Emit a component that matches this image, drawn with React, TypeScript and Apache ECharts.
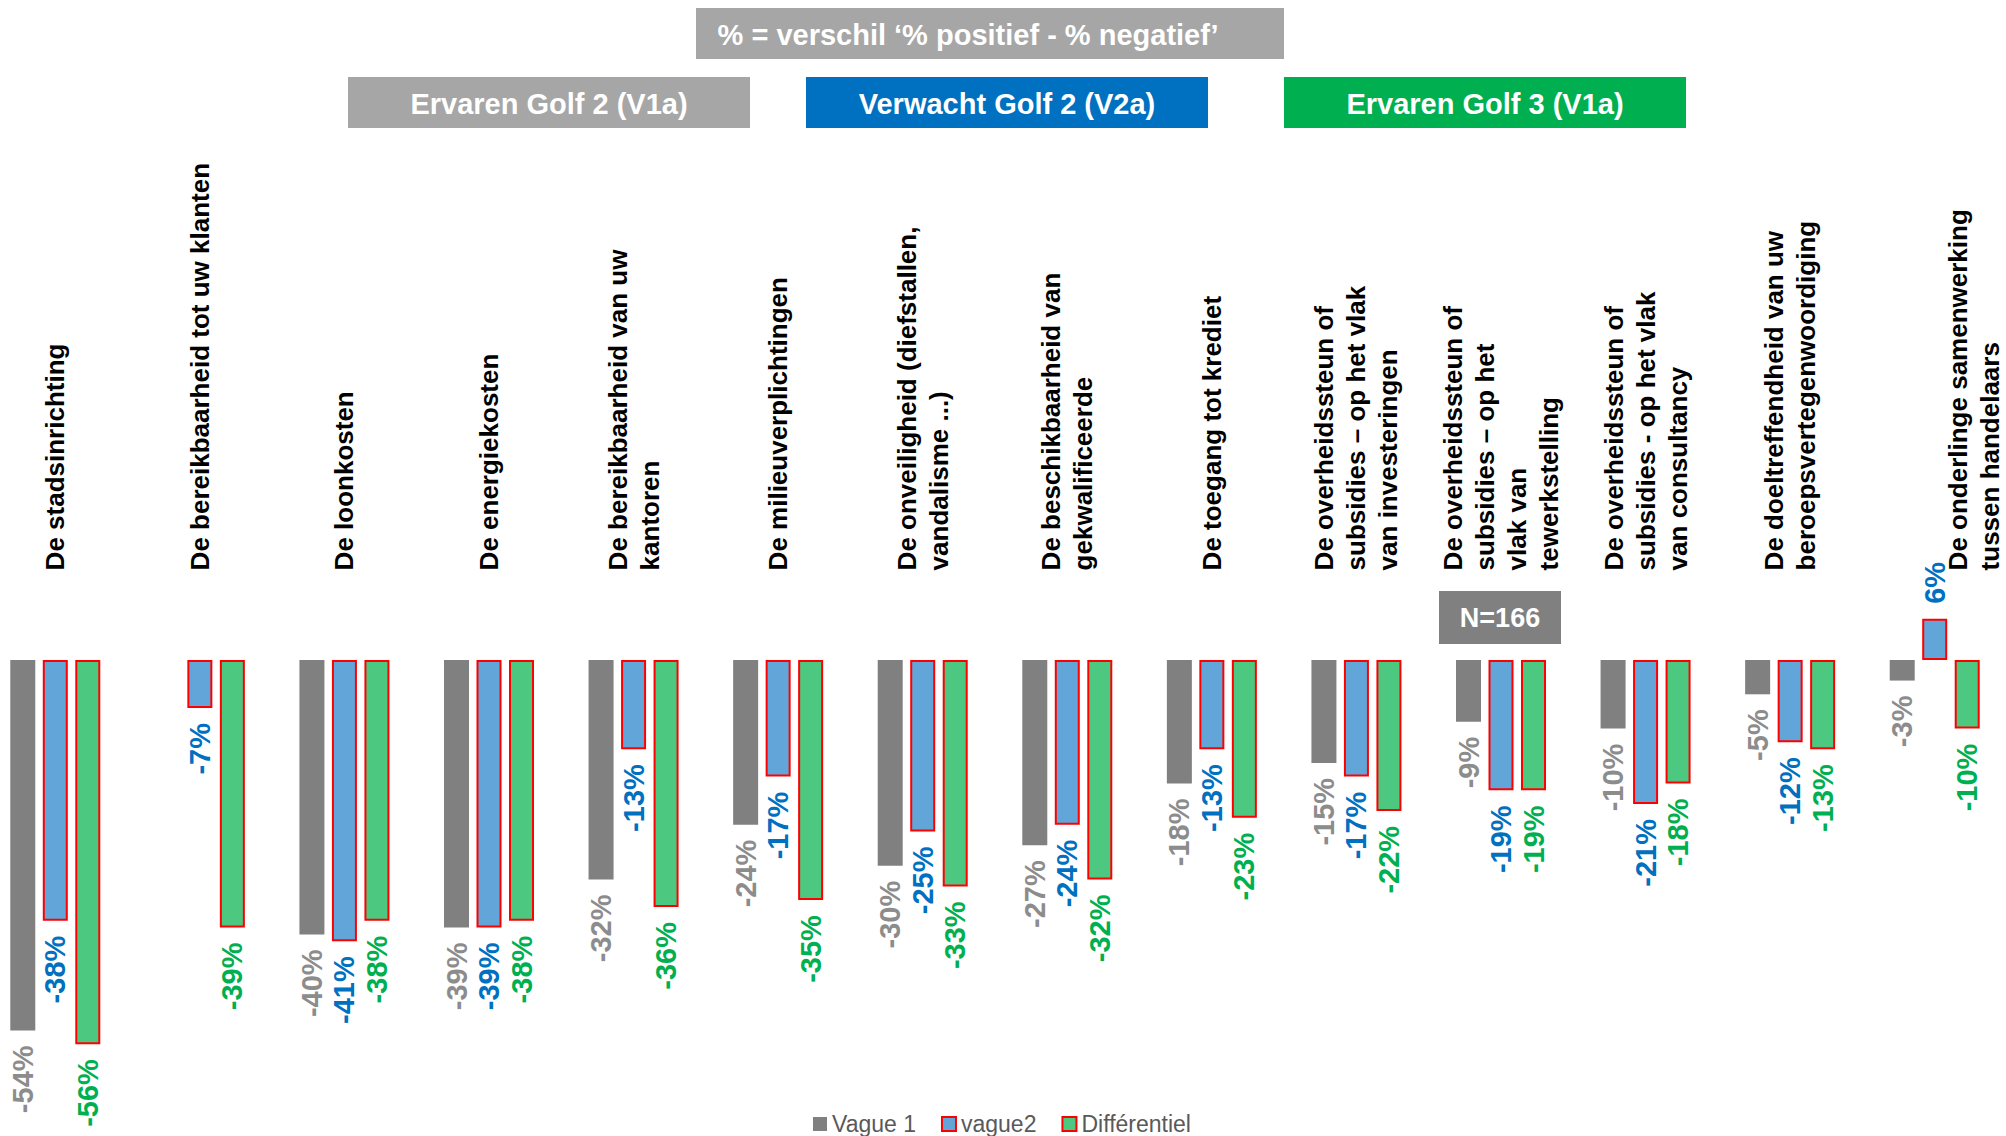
import React, { useEffect, useRef } from 'react';
import * as echarts from 'echarts';

const categories = [
  'De stadsinrichting',
  'De bereikbaarheid tot uw klanten',
  'De loonkosten',
  'De energiekosten',
  'De bereikbaarheid van uw\nkantoren',
  'De milieuverplichtingen',
  'De onveiligheid (diefstallen,\nvandalisme ...)',
  'De beschikbaarheid van\ngekwalificeerde',
  'De toegang tot krediet',
  'De overheidssteun of\nsubsidies – op het vlak\nvan investeringen',
  'De overheidssteun of\nsubsidies – op het\nvlak van\ntewerkstelling',
  'De overheidssteun of\nsubsidies - op het vlak\nvan consultancy',
  'De doeltreffendheid van uw\nberoepsvertegenwoordiging',
  'De onderlinge samenwerking\ntussen handelaars',
];

const vague1Values: (number | null)[] = [-54, null, -40, -39, -32, -24, -30, -27, -18, -15, -9, -10, -5, -3];
const vague2Values: (number | null)[] = [-38, -7, -41, -39, -13, -17, -25, -24, -13, -17, -19, -21, -12, 6];
const diffValues: (number | null)[] = [-56, -39, -38, -38, -36, -35, -33, -32, -23, -22, -19, -18, -13, -10];

const seriesNames = ['Vague 1', 'vague2', 'Différentiel'];
const headerTop = '% = verschil ‘% positief - % negatief’';
const headerBoxes = ['Ervaren Golf 2 (V1a)', 'Verwacht Golf 2 (V2a)', 'Ervaren Golf 3 (V1a)'];
const sampleNote = 'N=166';

const FONT = '"Liberation Sans", Arial, Helvetica, sans-serif';

function buildData(values: (number | null)[]) {
  return values.map((v) =>
    v === null
      ? null
      : v >= 0
      ? { value: v, label: { position: 'top', align: 'left' } }
      : v
  );
}

function makeLabel(color: string) {
  return {
    show: true,
    position: 'bottom',
    rotate: 90,
    align: 'right',
    verticalAlign: 'middle',
    distance: 15,
    formatter: (p: any) => p.value + '%',
    fontSize: 29,
    fontWeight: 'bold',
    fontFamily: FONT,
    color,
  };
}

export default function App() {
  const ref = useRef<HTMLDivElement>(null);

  useEffect(() => {
    if (!ref.current) return;
    const chart = echarts.init(ref.current, null, { renderer: 'svg' });

    const boxFont = `bold 29px ${FONT}`;
    const textEl = (text: string, x: number, y: number, font: string) => ({
      type: 'text',
      x,
      y,
      z: 10,
      style: {
        text,
        fill: '#ffffff',
        font,
        textAlign: 'center',
        textVerticalAlign: 'middle',
        align: 'center',
        verticalAlign: 'middle',
      },
    });

    const labelStyle = {
      fontSize: 26,
      fontWeight: 'bold',
      fontFamily: FONT,
      color: '#000000',
      lineHeight: 32,
    };

    const option: any = {
      animation: false,
      backgroundColor: '#ffffff',
      textStyle: { fontFamily: FONT },
      grid: {
        left: -17,
        right: -1,
        top: 591.4,
        height: 514.5,
        containLabel: false,
        outerBoundsMode: 'none',
      },
      xAxis: {
        type: 'category',
        position: 'top',
        data: categories,
        axisLine: { show: false },
        axisTick: { show: false },
        splitLine: { show: false },
        axisLabel: {
          interval: 0,
          rotate: 90,
          margin: 21,
          ...labelStyle,
          hideOverlap: false,
          formatter: (value: string, idx: number) =>
            idx === categories.length - 1
              ? '{s|}\n{s|}\n{s|}\n' +
                value
                  .split('\n')
                  .map((l) => '{t|' + l + '}')
                  .join('\n')
              : value,
          rich: {
            s: { lineHeight: 26, fontSize: 10 },
            t: { ...labelStyle },
          },
        },
      },
      yAxis: {
        type: 'value',
        min: -65,
        max: 10,
        show: false,
        splitLine: { show: false },
      },
      legend: {
        left: 808,
        top: 1106,
        itemWidth: 14,
        itemHeight: 14,
        itemGap: 25,
        icon: 'rect',
        textStyle: { fontSize: 23, color: '#595959', fontFamily: FONT, lineHeight: 26 },
        data: seriesNames,
      },
      series: [
        {
          name: seriesNames[0],
          type: 'bar',
          barWidth: 25,
          data: buildData(vague1Values),
          itemStyle: { color: '#808080' },
          label: makeLabel('#8C8C8C'),
        },
        {
          name: seriesNames[1],
          type: 'bar',
          barWidth: 25,
          data: buildData(vague2Values),
          itemStyle: { color: '#62A5D8', borderColor: '#FF0000', borderWidth: 2 },
          label: makeLabel('#0070C0'),
        },
        {
          name: seriesNames[2],
          type: 'bar',
          barWidth: 25,
          barGap: '30%',
          data: buildData(diffValues),
          itemStyle: { color: '#4CC880', borderColor: '#FF0000', borderWidth: 2 },
          label: makeLabel('#00B050'),
        },
      ],
      graphic: [
        { type: 'rect', shape: { x: 696, y: 8, width: 588, height: 51 }, style: { fill: '#A6A6A6' } },
        textEl(headerTop, 968, 35, boxFont),
        { type: 'rect', shape: { x: 348, y: 77, width: 402, height: 51 }, style: { fill: '#A6A6A6' } },
        textEl(headerBoxes[0], 549, 104, boxFont),
        { type: 'rect', shape: { x: 806, y: 77, width: 402, height: 51 }, style: { fill: '#0070C0' } },
        textEl(headerBoxes[1], 1007, 104, boxFont),
        { type: 'rect', shape: { x: 1284, y: 77, width: 402, height: 51 }, style: { fill: '#00B050' } },
        textEl(headerBoxes[2], 1485, 104, boxFont),
        { type: 'rect', shape: { x: 1439, y: 591, width: 122, height: 53 }, style: { fill: '#808080' } },
        textEl(sampleNote, 1500, 618, `bold 27px ${FONT}`),
      ],
    };

    chart.setOption(option);
    return () => chart.dispose();
  }, []);

  return (
    <div
      ref={ref}
      style={{ position: 'absolute', left: 0, top: 0, width: 2006, height: 1136, background: '#ffffff' }}
    />
  );
}
